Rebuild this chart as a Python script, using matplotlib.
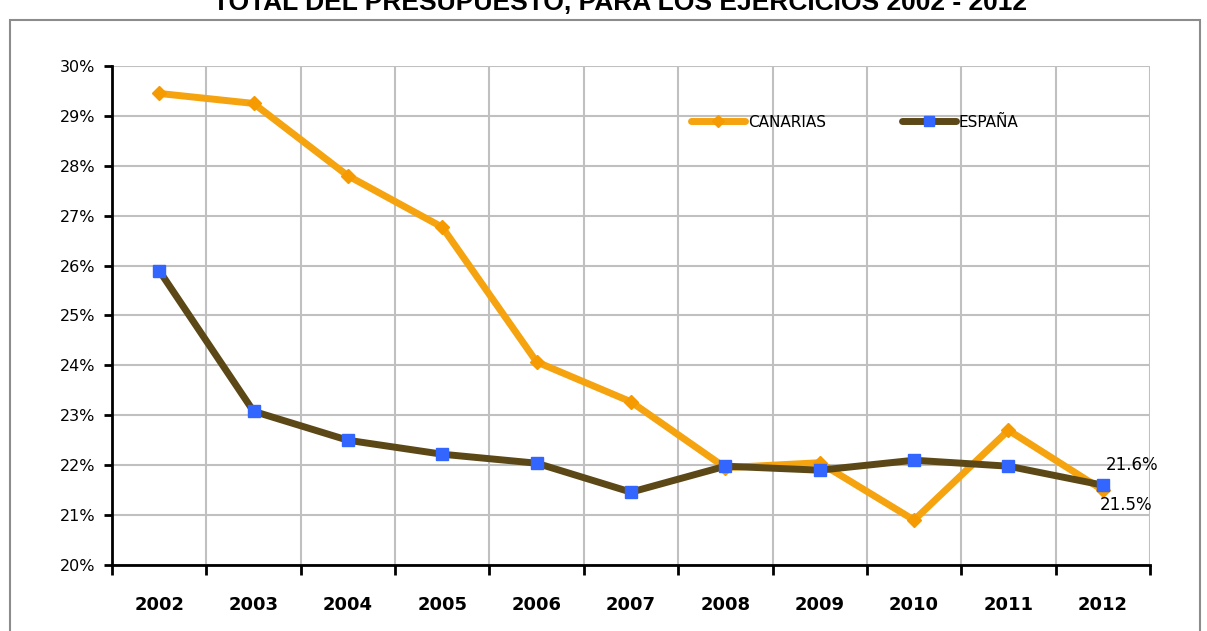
import matplotlib
matplotlib.use("Agg")
import matplotlib.pyplot as plt
from matplotlib.patches import Rectangle
from matplotlib.ticker import FixedLocator, FuncFormatter

years = ["2002", "2003", "2004", "2005", "2006", "2007", "2008", "2009", "2010", "2011", "2012"]
canarias = [29.45, 29.25, 27.8, 26.77, 24.07, 23.27, 21.95, 22.05, 20.9, 22.7, 21.5]
espana = [25.9, 23.08, 22.5, 22.22, 22.04, 21.46, 21.98, 21.9, 22.1, 21.98, 21.6]
title = "TOTAL DEL PRESUPUESTO, PARA LOS EJERCICIOS 2002 - 2012"

W, H = 1207, 631
fig = plt.figure(figsize=(W / 100, H / 100), dpi=100)
fig.patch.set_facecolor("white")

# outer chart frame
fig.patches.append(Rectangle((10 / W, -0.05), 1190 / W, 1.05 - 20 / H,
                             transform=fig.transFigure, fill=False,
                             edgecolor="#8c8c8c", linewidth=1.5))
# title sits partly above the top edge, as in the source
fig.text(620 / W, 1 - 10 / H, title, ha="center", va="baseline",
         fontsize=19, fontweight="bold", family="Liberation Sans")

ax = fig.add_axes([112 / W, 1 - 565 / H, 1038 / W, 499 / H])
x = list(range(len(years)))

ax.plot(x, canarias, color="#F5A30F", linewidth=5, marker="D", markersize=7,
        markerfacecolor="#F59A00", markeredgecolor="#F59A00", label="CANARIAS",
        solid_capstyle="round", zorder=3)
ax.plot(x, espana, color="#5C4816", linewidth=5, marker="s", markersize=8,
        markerfacecolor="#3366FF", markeredgecolor="#3366FF", label="ESPAÑA",
        solid_capstyle="round", zorder=4)

ax.set_xlim(-0.5, len(years) - 0.5)
ax.set_ylim(20, 30)

ax.xaxis.set_major_locator(FixedLocator(x))
ax.set_xticklabels(years, fontsize=13, family="DejaVu Sans", fontweight="bold")
ax.xaxis.set_minor_locator(FixedLocator([i + 0.5 for i in range(-1, len(years))]))
ax.tick_params(axis="x", which="major", length=0, pad=22)
ax.tick_params(axis="x", which="minor", length=7, width=2, direction="out")

ax.set_yticks(range(20, 31))
ax.yaxis.set_major_formatter(FuncFormatter(lambda v, p: f"{int(v)}%"))
ax.tick_params(axis="y", length=6, width=2, direction="out", labelsize=11.5, pad=6)

ax.grid(True, axis="y", which="major", color="#C0C0C0", linewidth=1.5)
ax.grid(True, axis="x", which="minor", color="#C0C0C0", linewidth=1.5)
ax.set_axisbelow(True)

for s in ["top", "right"]:
    ax.spines[s].set_visible(False)
ax.spines["left"].set_linewidth(2)
ax.spines["bottom"].set_linewidth(2)

ax.annotate(f"{espana[-1]:.1f}%", (x[-1], espana[-1]), xytext=(2, 8),
            textcoords="offset points", fontsize=12, va="bottom", ha="left")
ax.annotate(f"{canarias[-1]:.1f}%", (x[-1], canarias[-1]), xytext=(-2, -4),
            textcoords="offset points", fontsize=12, va="top", ha="left")

ax.legend(loc="upper left", bbox_to_anchor=(0.545, 0.93), ncol=2, frameon=False,
          fontsize=11, handlelength=3.5, handletextpad=0.2, columnspacing=5,
          markerscale=0.9)

fig.savefig("out.png", dpi=100)
